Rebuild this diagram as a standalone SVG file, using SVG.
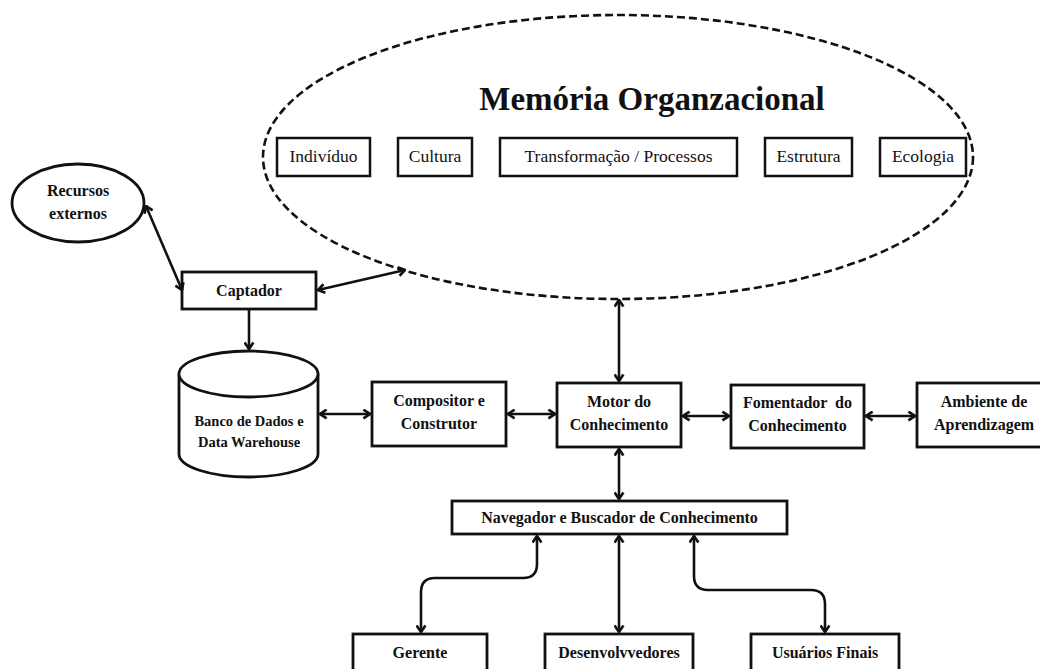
<svg xmlns="http://www.w3.org/2000/svg" width="1040" height="669" viewBox="0 0 1040 669">
<style>
.box{fill:#fff;stroke:#111;stroke-width:2.8}
.ibox{fill:#fff;stroke:#111;stroke-width:2.5}
.t{font-family:"Liberation Serif","Times New Roman",serif;font-weight:bold;font-size:16px;fill:#111;text-anchor:middle}
.s{font-family:"Liberation Serif","Times New Roman",serif;font-size:17.5px;fill:#111;text-anchor:middle}
.c{fill:none;stroke:#111;stroke-width:2.6;marker-start:url(#ah);marker-end:url(#ah)}
.c1{fill:none;stroke:#111;stroke-width:2.6;marker-end:url(#ah)}
</style>
<defs>
<marker id="ah" viewBox="0 0 10 10" markerUnits="userSpaceOnUse" markerWidth="11" markerHeight="11" refX="9" refY="5" orient="auto-start-reverse">
<path d="M3,1 L9,5 L3,9" fill="none" stroke="#111" stroke-width="2.4"/>
</marker>
</defs>
<rect width="1040" height="669" fill="#fff"/>
<g id="memoria">
<ellipse cx="618" cy="157" rx="355" ry="142" fill="none" stroke="#111" stroke-width="2.6" stroke-dasharray="8,4"/>
<text x="652" y="110" class="t" style="font-size:33px">Memória Organzacional</text>
</g>
<g id="individuo"><rect class="ibox" x="277" y="138" width="93" height="38"/><text class="s" x="323.5" y="162">Indivíduo</text></g>
<g id="cultura"><rect class="ibox" x="398" y="138" width="74" height="38"/><text class="s" x="435" y="162">Cultura</text></g>
<g id="transformacao"><rect class="ibox" x="500" y="138" width="237" height="38"/><text class="s" x="618.5" y="162">Transformação / Processos</text></g>
<g id="estrutura"><rect class="ibox" x="765" y="138" width="87" height="38"/><text class="s" x="808.5" y="162">Estrutura</text></g>
<g id="ecologia"><rect class="ibox" x="880" y="138" width="86" height="38"/><text class="s" x="923" y="162">Ecologia</text></g>
<g id="recursos"><ellipse cx="78" cy="203" rx="66" ry="39" fill="#fff" stroke="#111" stroke-width="2.8"/><text class="t" x="78" y="196">Recursos</text><text class="t" x="78" y="219">externos</text></g>
<g id="captador"><rect class="box" x="182" y="272" width="134" height="37"/><text class="t" x="249" y="296">Captador</text></g>
<g id="banco">
<path d="M179,374 V454 A69.5,23 0 0 0 318,454 V374" fill="#fff" stroke="#111" stroke-width="2.8"/>
<ellipse cx="248.5" cy="374" rx="69.5" ry="23" fill="#fff" stroke="#111" stroke-width="2.8"/>
<text class="t" style="font-size:14.5px" x="249" y="426">Banco de Dados e</text>
<text class="t" style="font-size:14.5px" x="249" y="447">Data Warehouse</text>
</g>
<g id="compositor"><rect class="box" x="372" y="382" width="134" height="64"/><text class="t" x="439" y="406">Compositor e</text><text class="t" x="439" y="429">Construtor</text></g>
<g id="motor"><rect class="box" x="557" y="383" width="124" height="64"/><text class="t" x="619" y="407">Motor do</text><text class="t" x="619" y="430">Conhecimento</text></g>
<g id="fomentador"><rect class="box" x="731" y="385" width="133" height="63"/><text class="t" x="797.5" y="408" xml:space="preserve">Fomentador  do</text><text class="t" x="797.5" y="431">Conhecimento</text></g>
<g id="ambiente"><rect class="box" x="917" y="383" width="134" height="64"/><text class="t" x="984" y="407">Ambiente de</text><text class="t" x="984" y="430">Aprendizagem</text></g>
<g id="navegador"><rect class="box" x="452" y="501" width="335" height="33"/><text class="t" x="619.5" y="523">Navegador e Buscador de Conhecimento</text></g>
<g id="gerente"><rect class="box" x="353" y="634" width="134" height="50"/><text class="t" x="420" y="658">Gerente</text></g>
<g id="desenvolvedores"><rect class="box" x="545" y="634" width="148" height="50"/><text class="t" x="619" y="658">Desenvolvvedores</text></g>
<g id="usuarios"><rect class="box" x="751" y="634" width="148" height="50"/><text class="t" x="825" y="658">Usuários Finais</text></g>
<g id="connectors">
<line class="c" x1="146" y1="206" x2="182" y2="290"/>
<line class="c" x1="318" y1="290" x2="405" y2="270"/>
<line class="c1" x1="249" y1="310" x2="249" y2="349"/>
<line class="c" x1="320" y1="414" x2="370" y2="414"/>
<line class="c" x1="508" y1="414" x2="555" y2="414"/>
<line class="c" x1="619" y1="300" x2="619" y2="381"/>
<line class="c" x1="683" y1="416" x2="729" y2="416"/>
<line class="c" x1="866" y1="416" x2="915" y2="416"/>
<line class="c" x1="619" y1="449" x2="619" y2="499"/>
<line class="c" x1="619" y1="536" x2="619" y2="632"/>
<path class="c" d="M537,536 V564 Q537,578 523,578 H435 Q421,578 421,592 V632"/>
<path class="c" d="M694,536 V576 Q694,590 708,590 H811 Q825,590 825,604 V632"/>
</g>
</svg>
